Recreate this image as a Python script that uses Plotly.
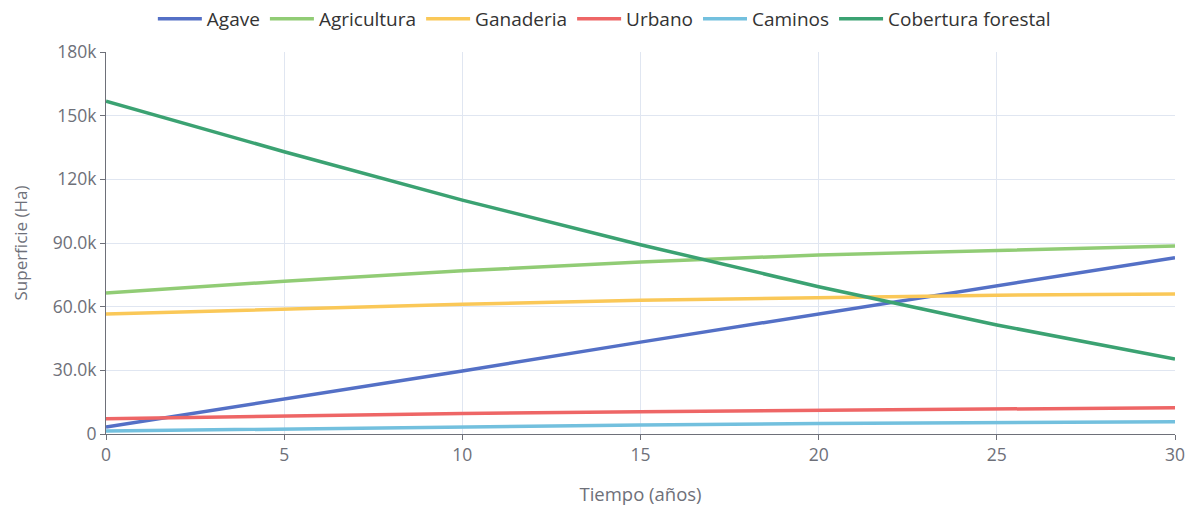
import plotly.graph_objects as go

years = [0, 5, 10, 15, 20, 25, 30]
agave = [3300, 16300, 29700, 43300, 56600, 70200, 83100]
agricultura = [66400, 72000, 76900, 81000, 84400, 86700, 88600]
ganaderia = [56500, 58900, 61100, 63000, 64400, 65400, 66000]
urbano = [7200, 8500, 9700, 10500, 11200, 11800, 12400]
caminos = [1400, 2400, 3200, 4200, 4900, 5300, 5800]
cobertura = [156800, 133000, 110200, 89200, 69400, 51400, 35300]

series = [
    ("Agave", agave, "#5470c6"),
    ("Agricultura", agricultura, "#91cc75"),
    ("Ganaderia", ganaderia, "#fac858"),
    ("Urbano", urbano, "#ee6666"),
    ("Caminos", caminos, "#73c0de"),
    ("Cobertura forestal", cobertura, "#3ba272"),
]

ytick_vals = [0, 30000, 60000, 90000, 120000, 150000, 180000]
ytick_text = ["0", "30.0k", "60.0k", "90.0k", "120k", "150k", "180k"]
xtick_vals = [0, 5, 10, 15, 20, 25, 30]

fig = go.Figure()
for name, vals, color in series:
    fig.add_trace(go.Scatter(x=years, y=vals, name=name, mode="lines",
                             line=dict(color=color, width=3.5)))

fam = "Open Sans, sans-serif"
axis_font = dict(family=fam, size=17.5, color="#6e7079")
fig.update_layout(
    width=1192, height=506,
    margin=dict(l=106, r=17, t=52, b=72),
    paper_bgcolor="white", plot_bgcolor="white",
    font=dict(family=fam, size=17, color="#333333"),
    legend=dict(orientation="h", x=0.507, xanchor="center", xref="container",
                y=1.0, yanchor="top", yref="container",
                font=dict(size=19, color="#333333"),
                itemwidth=44, tracegroupgap=0),
    showlegend=True,
)
fig.update_xaxes(range=[0, 30], tickvals=xtick_vals, showgrid=True, gridcolor="#e0e6f1",
                 showline=True, linecolor="#6e7079", linewidth=1, ticks="outside",
                 tickcolor="#6e7079", ticklen=5, tickfont=axis_font, zeroline=False,
                 automargin=False,
                 title=dict(text="Tiempo (años)", font=dict(family=fam, size=18.5, color="#6e7079"),
                            standoff=24))
fig.update_yaxes(range=[0, 180000], tickvals=ytick_vals, ticktext=ytick_text,
                 showgrid=True, gridcolor="#e0e6f1", showline=True, linecolor="#6e7079",
                 linewidth=1, ticks="outside", tickcolor="#6e7079", ticklen=5,
                 tickfont=axis_font, zeroline=False, automargin=False,
                 title=dict(text="Superficie (Ha)", font=dict(family=fam, size=17, color="#6e7079"),
                            standoff=20))

fig.write_html("out.html")
